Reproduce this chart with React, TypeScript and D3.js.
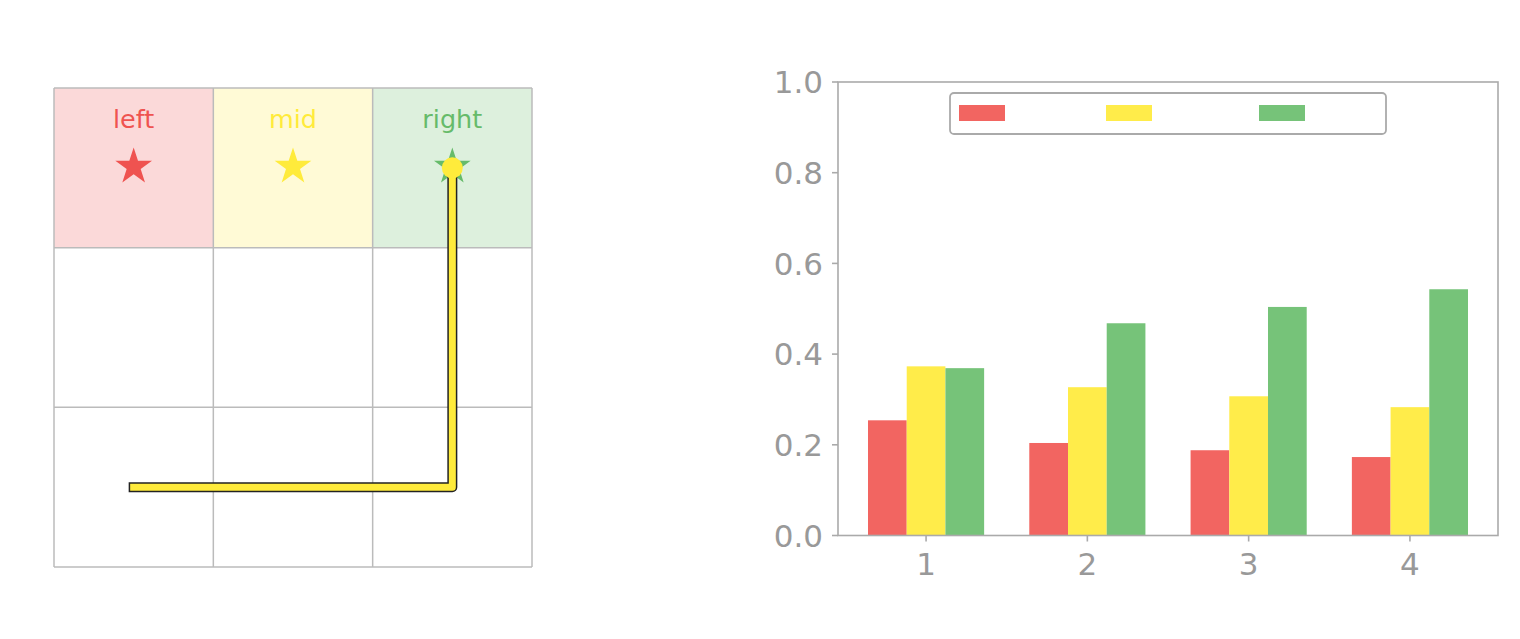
import * as d3 from "d3";

// grid panel data
const cellLabels = ["left", "mid", "right"];
const labelColors = ["#ef5350", "#ffeb3b", "#66bb6a"];
const cellFills = ["#fbd9d9", "#fffad6", "#ddf0dd"];
const pathCells: [number, number][] = [
  [0, 2],
  [2, 2],
  [2, 0],
];

// bar chart data
const groups = [1, 2, 3, 4];
const seriesNames = ["left", "mid", "right"];
const barColors = ["#f26561", "#ffec4a", "#76c379"];
const leftVals = [0.254, 0.204, 0.188, 0.173];
const midVals = [0.373, 0.327, 0.307, 0.283];
const rightVals = [0.369, 0.468, 0.504, 0.543];
const yTicks = [0, 0.2, 0.4, 0.6, 0.8, 1.0];

const FONT = "DejaVu Sans, sans-serif";
const TICK_COLOR = "#999999";
const SPINE = "#aaaaaa";

function GridPanel() {
  const x = d3.scaleLinear().domain([0, 3]).range([54, 532]);
  const y = d3.scaleLinear().domain([0, 3]).range([88, 567]);
  const star = d3.symbol(d3.symbolStar, 418)();
  const line = d3
    .line<[number, number]>()
    .x((d) => x(d[0] + 0.5))
    .y((d) => y(d[1] + 0.5));
  const end = pathCells[pathCells.length - 1];

  return (
    <g>
      {cellLabels.map((_, i) => (
        <rect
          key={"bg" + i}
          x={x(i)}
          y={y(0)}
          width={x(i + 1) - x(i)}
          height={y(1) - y(0)}
          fill={cellFills[i]}
        />
      ))}
      {d3.range(4).map((i) => (
        <line key={"v" + i} x1={x(i)} x2={x(i)} y1={y(0)} y2={y(3)} stroke="#bbbbbb" strokeWidth={1.5} />
      ))}
      {d3.range(4).map((i) => (
        <line key={"h" + i} x1={x(0)} x2={x(3)} y1={y(i)} y2={y(i)} stroke="#bbbbbb" strokeWidth={1.5} />
      ))}
      {cellLabels.map((t, i) => (
        <g key={"lab" + i}>
          <text
            x={x(i + 0.5)}
            y={y(0) + 40}
            textAnchor="middle"
            fontFamily={FONT}
            fontSize={25.5}
            fill={labelColors[i]}
          >
            {t}
          </text>
          <path d={star || ""} transform={`translate(${x(i + 0.5)},${y(0.5) - 1})`} fill={labelColors[i]} />
        </g>
      ))}
      <path
        d={line(pathCells) || ""}
        fill="none"
        stroke="#222222"
        strokeWidth={10}
        strokeLinecap="square"
        strokeLinejoin="round"
      />
      <path
        d={line(pathCells) || ""}
        fill="none"
        stroke="#ffeb3b"
        strokeWidth={7}
        strokeLinecap="square"
        strokeLinejoin="round"
      />
      <circle cx={x(end[0] + 0.5)} cy={y(end[1] + 0.5)} r={10.5} fill="#ffeb3b" />
    </g>
  );
}

function BarPanel() {
  const left = 838;
  const right = 1498;
  const top = 82;
  const bottom = 535.5;
  const x = d3.scaleLinear().domain([0.454, 4.546]).range([left, right]);
  const y = d3.scaleLinear().domain([0, 1]).range([bottom, top]);
  const series = [leftVals, midVals, rightVals];
  const bw = 0.24;
  const fmt = d3.format(".1f");

  const legendX = [959, 1106, 1259];

  return (
    <g>
      {series.map((vals, j) =>
        vals.map((v, i) => (
          <rect
            key={`b${j}-${i}`}
            x={x(groups[i] + (j - 1.5) * bw)}
            y={y(v)}
            width={x(bw) - x(0)}
            height={y(0) - y(v)}
            fill={barColors[j]}
          />
        ))
      )}
      <rect x={left} y={top} width={right - left} height={bottom - top} fill="none" stroke={SPINE} strokeWidth={1.6} />
      {yTicks.map((t) => (
        <g key={"yt" + t}>
          <line x1={left - 6} x2={left} y1={y(t)} y2={y(t)} stroke={SPINE} strokeWidth={1.6} />
          <text
            x={left - 15}
            y={y(t)}
            dy="0.36em"
            textAnchor="end"
            fontFamily={FONT}
            fontSize={31}
            fill={TICK_COLOR}
          >
            {fmt(t)}
          </text>
        </g>
      ))}
      {groups.map((g) => (
        <g key={"xt" + g}>
          <line x1={x(g)} x2={x(g)} y1={bottom} y2={bottom + 6} stroke={SPINE} strokeWidth={1.6} />
          <text
            x={x(g)}
            y={bottom + 39}
            textAnchor="middle"
            fontFamily={FONT}
            fontSize={31}
            fill={TICK_COLOR}
          >
            {g}
          </text>
        </g>
      ))}
      <rect x={950} y={93} width={436} height={41} rx={4} fill="#ffffff" stroke={SPINE} strokeWidth={1.8} />
      {seriesNames.map((n, j) => (
        <g key={"lg" + j}>
          <rect x={legendX[j]} y={105} width={46} height={16} fill={barColors[j]} />
          <text x={legendX[j] + 64} y={121} fontFamily={FONT} fontSize={23} fill="#ffffff">
            {n}
          </text>
        </g>
      ))}
    </g>
  );
}

export default function App() {
  return (
    <svg
      width={1520}
      height={639}
      style={{ position: "absolute", left: 0, top: 0, background: "#ffffff" }}
    >
      <rect width={1520} height={639} fill="#ffffff" />
      <GridPanel />
      <BarPanel />
    </svg>
  );
}
